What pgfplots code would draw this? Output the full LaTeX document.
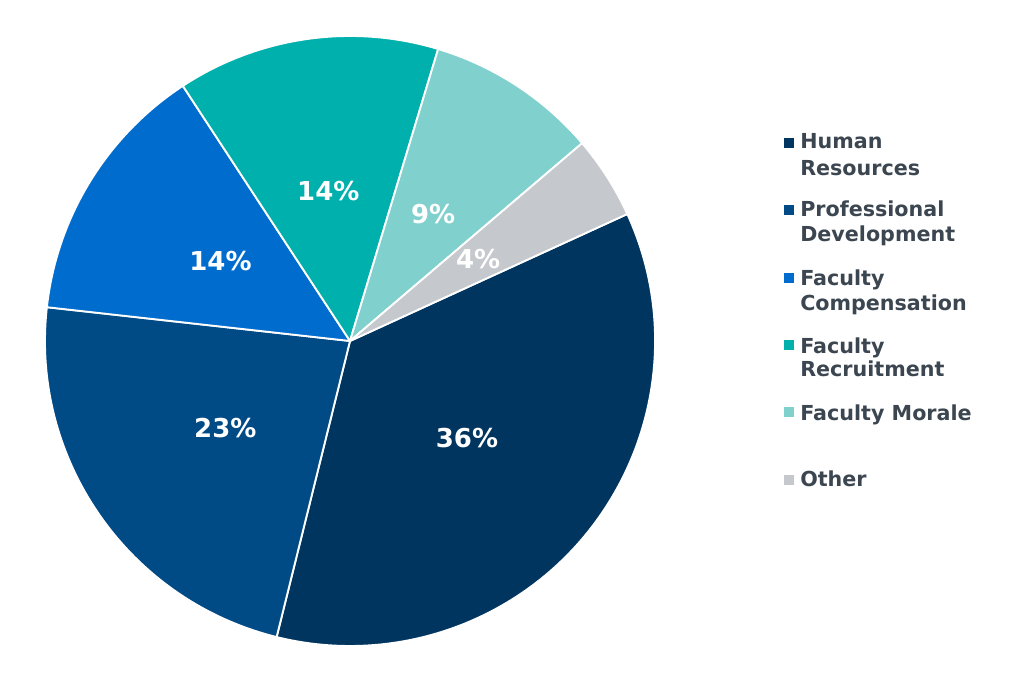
\documentclass[border=0pt]{standalone}
\usepackage{pgfplots}
\pgfplotsset{compat=1.18}
\usepackage{pgfplotstable}
\usepackage{fontspec}
\setmainfont{DejaVu Sans}
\definecolor{cHR}{RGB}{0,53,96}
\definecolor{cPD}{RGB}{0,74,134}
\definecolor{cFC}{RGB}{0,108,206}
\definecolor{cFR}{RGB}{0,176,173}
\definecolor{cFM}{RGB}{128,208,206}
\definecolor{cOT}{RGB}{197,200,204}
\definecolor{legtext}{RGB}{60,70,80}
\pgfplotstableread[col sep=comma]{
name,value,label,color
Human Resources,35.7,36,cHR
Professional Development,22.9,23,cPD
Faculty Compensation,14.0,14,cFC
Faculty Recruitment,13.9,14,cFR
Faculty Morale,9.1,9,cFM
Other,4.4,4,cOT
}\piedata
\begin{document}
\begin{tikzpicture}
\begin{axis}[
  scale only axis, width=768pt, height=513pt,
  xmin=0, xmax=1024, ymin=0, ymax=684,
  hide axis, clip=false]
\pgfplotsextra{
  \path (axis cs:0,0) rectangle (axis cs:1024,684);
  \xdef\startang{24.6}
  \foreach \i in {0,...,5}{
    \pgfplotstablegetelem{\i}{value}\of{\piedata}\let\v\pgfplotsretval
    \pgfplotstablegetelem{\i}{color}\of{\piedata}\let\c\pgfplotsretval
    \pgfmathsetmacro\e{\startang-3.6*\v}
    \fill[\c, draw=white, line width=1.4pt, line join=round]
      (axis cs:350,343) -- ++(\startang:228.75pt)
      arc[start angle=\startang, end angle=\e, radius=228.75pt] -- cycle;
    \xdef\startang{\e}
  }
  \xdef\startang{24.6}
  \foreach \i in {0,...,5}{
    \pgfplotstablegetelem{\i}{value}\of{\piedata}\let\v\pgfplotsretval
    \pgfplotstablegetelem{\i}{label}\of{\piedata}\let\l\pgfplotsretval
    \pgfmathsetmacro\e{\startang-3.6*\v}
    \pgfmathsetmacro\m{(\startang+\e)/2}
    \node[text=white, font=\fontsize{19.5}{23}\selectfont\bfseries, inner sep=0pt]
      at ([shift={(\m:114pt)}]axis cs:350,343) {\l\%};
    \xdef\startang{\e}
  }
  % legend
  \tikzset{legsq/.style={minimum size=7.5pt, inner sep=0pt},
           legtx/.style={anchor=west, inner sep=0pt, text=legtext,
             font=\fontsize{15.5}{18}\selectfont\bfseries, text height=11.3pt, text depth=0pt}}
  \node[legsq, fill=cHR] at (axis cs:789,541) {};
  \node[legtx] at (axis cs:800,543) {Human};
  \node[legtx] at (axis cs:800,516.5) {Resources};
  \node[legsq, fill=cPD] at (axis cs:789,474) {};
  \node[legtx] at (axis cs:800,475) {Professional};
  \node[legtx] at (axis cs:800,450) {Development};
  \node[legsq, fill=cFC] at (axis cs:789,406) {};
  \node[legtx] at (axis cs:800,406.5) {Faculty};
  \node[legtx] at (axis cs:800,381.5) {Compensation};
  \node[legsq, fill=cFR] at (axis cs:789,339) {};
  \node[legtx] at (axis cs:800,338.5) {Faculty};
  \node[legtx] at (axis cs:800,315) {Recruitment};
  \node[legsq, fill=cFM] at (axis cs:789,272) {};
  \node[legtx] at (axis cs:800,271.5) {Faculty Morale};
  \node[legsq, fill=cOT] at (axis cs:789,204) {};
  \node[legtx] at (axis cs:800,205) {Other};
}
\end{axis}
\end{tikzpicture}
\end{document}
